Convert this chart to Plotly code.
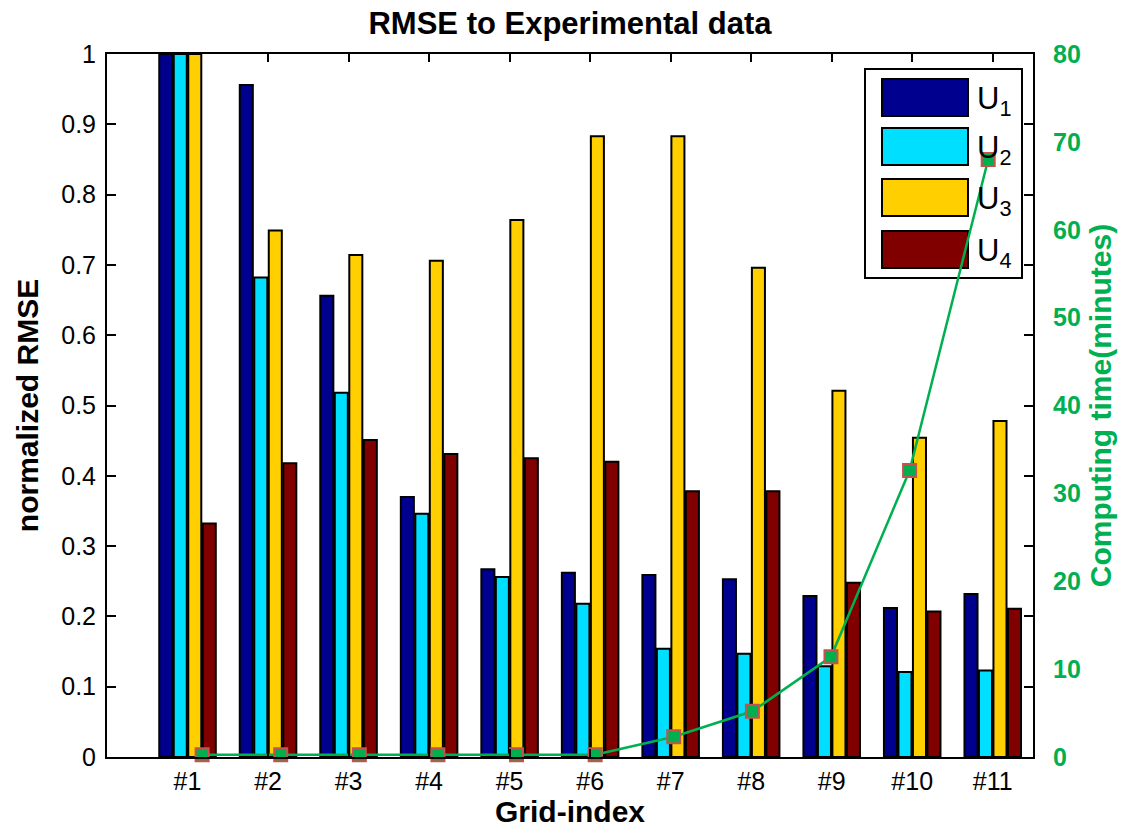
import plotly.graph_objects as go

# ---- data ----
grid_labels = ["#1", "#2", "#3", "#4", "#5", "#6", "#7", "#8", "#9", "#10", "#11"]
grid_pos = [1, 2, 3, 4, 5, 6, 7, 8, 9, 10, 11]
series_names = ["U<sub>1</sub>", "U<sub>2</sub>", "U<sub>3</sub>", "U<sub>4</sub>"]
u1 = [1.0, 0.956, 0.656, 0.370, 0.267, 0.262, 0.259, 0.253, 0.229, 0.212, 0.232]
u2 = [1.0, 0.682, 0.518, 0.346, 0.256, 0.218, 0.154, 0.147, 0.129, 0.121, 0.123]
u3 = [1.0, 0.749, 0.714, 0.706, 0.764, 0.883, 0.883, 0.696, 0.521, 0.454, 0.478]
u4 = [0.332, 0.418, 0.451, 0.431, 0.425, 0.420, 0.378, 0.378, 0.248, 0.207, 0.211]
computing_time = [0.25, 0.25, 0.25, 0.25, 0.25, 0.25, 2.3, 5.2, 11.4, 32.6, 68.0]
y_ticks = [0, 0.1, 0.2, 0.3, 0.4, 0.5, 0.6, 0.7, 0.8, 0.9, 1]
y_ticklabels = ["0", "0.1", "0.2", "0.3", "0.4", "0.5", "0.6", "0.7", "0.8", "0.9", "1"]
y2_ticks = [0, 10, 20, 30, 40, 50, 60, 70, 80]

colors = ["#00008F", "#00DFFF", "#FFCF00", "#800000"]
green = "#00B050"
FONT = "Liberation Sans, Arial, sans-serif"

W, H = 1131, 833
PL, PR, PT, PB = 107, 1033, 54, 757  # plot area in pixels

fig = go.Figure()
for vals, name, col in zip([u1, u2, u3, u4], series_names, colors):
    fig.add_trace(go.Bar(x=grid_pos, y=vals, name=name, marker=dict(color=col, line=dict(color="black", width=2)),
                         showlegend=False, xaxis="x", yaxis="y"))

fig.add_trace(go.Scatter(x=grid_pos, y=computing_time, mode="lines+markers", xaxis="x2", yaxis="y2",
                         line=dict(color=green, width=2.5),
                         marker=dict(symbol="square", size=13, color=green, line=dict(color="#C8504D", width=2)),
                         showlegend=False, cliponaxis=False))

# manual MATLAB-like legend (paper coords are relative to the plot area)
def px(x): return (x - PL) / (PR - PL)
def py(y): return (PB - y) / (PB - PT)
L, R, T, B = 865, 1022, 69, 278
shapes = [dict(type="rect", xref="paper", yref="paper", x0=px(L), x1=px(R), y0=py(B), y1=py(T),
               line=dict(color="black", width=2), fillcolor="white", layer="below")]
annotations = []
patch_tops = [79, 128, 179, 231]
for i, (name, col) in enumerate(zip(series_names, colors)):
    t = patch_tops[i]
    shapes.append(dict(type="rect", xref="paper", yref="paper", x0=px(882), x1=px(968), y0=py(t + 37), y1=py(t),
                       line=dict(color="black", width=2), fillcolor=col, layer="below"))
    annotations.append(dict(xref="paper", yref="paper", x=px(975), y=py(t + 22), text=name, showarrow=False,
                            xanchor="left", yanchor="middle", font=dict(family=FONT, size=31, color="black")))

fig.update_layout(
    width=W, height=H,
    margin=dict(l=PL, r=W - PR, t=PT, b=H - PB),
    plot_bgcolor="white", paper_bgcolor="white",
    barmode="group", bargap=0.28, bargroupgap=0.1,
    font=dict(family=FONT, size=25, color="black"),
    title=dict(text="<b>RMSE to Experimental data</b>", x=0.5, xref="paper", xanchor="center",
               y=1 - 23 / H, yref="container", yanchor="middle", font=dict(family=FONT, size=31, color="black")),
    xaxis=dict(range=[0, 11.5], tickvals=grid_pos, ticktext=grid_labels, ticks="inside", ticklen=8,
               tickwidth=2, tickcolor="black", showline=True, linecolor="black", linewidth=2, mirror="ticks",
               showgrid=False, zeroline=False, ticklabelstandoff=1, tickfont=dict(size=25),
               title=dict(text="<b>Grid-index</b>", font=dict(size=30), standoff=4)),
    yaxis=dict(range=[0, 1], tickvals=y_ticks, ticktext=y_ticklabels, ticks="inside", ticklen=9, tickwidth=2,
               tickcolor="black", showline=True, linecolor="black", linewidth=2, mirror="ticks",
               showgrid=False, zeroline=False, ticklabelstandoff=4, tickfont=dict(size=25),
               title=dict(text="<b>normalized RMSE</b>", font=dict(size=30), standoff=14)),
    xaxis2=dict(range=[-0.21, 11.57], overlaying="x", visible=False),
    yaxis2=dict(range=[0, 80], tickvals=y2_ticks, overlaying="y", side="right", anchor="x", showgrid=False,
                zeroline=False, showline=False, ticks="", ticklabelstandoff=19,
                tickfont=dict(family=FONT, size=25, color=green, weight="bold"),
                title=dict(text="<b>Computing time(minutes)</b>", font=dict(size=30, color=green), standoff=10)),
    shapes=shapes, annotations=annotations,
)

fig.write_html("out.html")
